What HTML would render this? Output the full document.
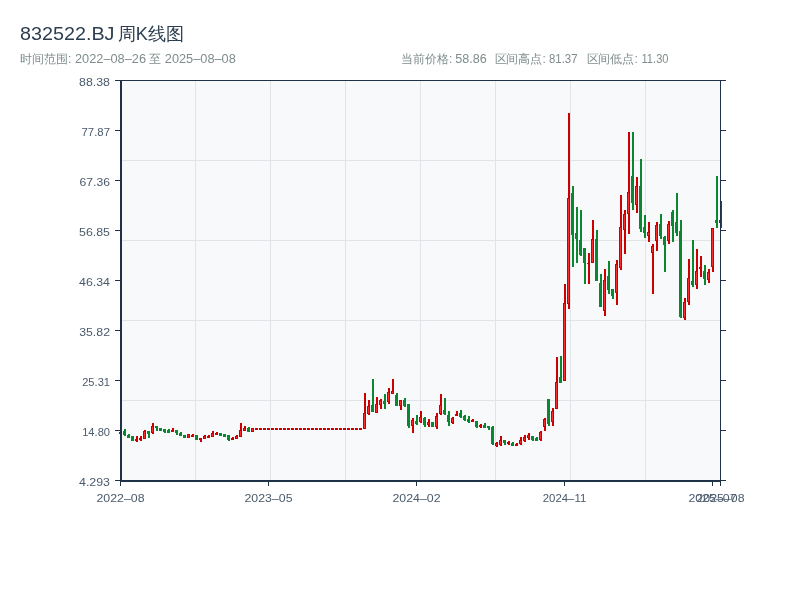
<!DOCTYPE html><html><head><meta charset="utf-8"><title>832522.BJ</title><style>
html,body{margin:0;padding:0;background:#fff;width:800px;height:600px;overflow:hidden}
svg{display:block;position:absolute;left:0;top:0}
text{font-family:"Liberation Sans",sans-serif}
</style></head><body>
<svg width="800" height="600" viewBox="0 0 800 600">
<rect x="0" y="0" width="800" height="600" fill="#fff"/>
<g shape-rendering="crispEdges">
<rect x="120" y="80" width="601" height="401" fill="#f8f9fa"/>
<rect x="195" y="80" width="1" height="400" fill="#e0e4e8"/>
<rect x="270" y="80" width="1" height="400" fill="#e0e4e8"/>
<rect x="345" y="80" width="1" height="400" fill="#e0e4e8"/>
<rect x="420" y="80" width="1" height="400" fill="#e0e4e8"/>
<rect x="495" y="80" width="1" height="400" fill="#e0e4e8"/>
<rect x="570" y="80" width="1" height="400" fill="#e0e4e8"/>
<rect x="645" y="80" width="1" height="400" fill="#e0e4e8"/>
<rect x="120" y="160" width="600" height="1" fill="#e0e4e8"/>
<rect x="120" y="240" width="600" height="1" fill="#e0e4e8"/>
<rect x="120" y="320" width="600" height="1" fill="#e0e4e8"/>
<rect x="120" y="400" width="600" height="1" fill="#e0e4e8"/>
<rect x="120" y="431" width="2" height="4" fill="#cc0000"/>
<rect x="119" y="432" width="3" height="2" fill="#cc0000"/>
<rect x="124" y="429" width="2" height="7" fill="#0a8730"/>
<rect x="123" y="431" width="3" height="4" fill="#0a8730"/>
<rect x="128" y="434" width="2" height="4" fill="#0a8730"/>
<rect x="127" y="435" width="3" height="3" fill="#0a8730"/>
<rect x="131" y="436" width="3" height="5" fill="#0a8730"/>
<rect x="136" y="436" width="2" height="6" fill="#cc0000"/>
<rect x="135" y="439" width="3" height="2" fill="#cc0000"/>
<rect x="140" y="436" width="2" height="5" fill="#cc0000"/>
<rect x="139" y="438" width="3" height="2" fill="#cc0000"/>
<rect x="144" y="430" width="2" height="9" fill="#cc0000"/>
<rect x="143" y="431" width="3" height="8" fill="#cc0000"/>
<rect x="144" y="432" width="1" height="6" fill="#ff2a2a"/>
<rect x="148" y="431" width="2" height="7" fill="#0a8730"/>
<rect x="147" y="431" width="3" height="3" fill="#0a8730"/>
<rect x="152" y="423" width="2" height="11" fill="#cc0000"/>
<rect x="151" y="426" width="3" height="7" fill="#cc0000"/>
<rect x="152" y="427" width="1" height="5" fill="#ff2a2a"/>
<rect x="156" y="426" width="2" height="5" fill="#0a8730"/>
<rect x="155" y="426" width="3" height="2" fill="#0a8730"/>
<rect x="159" y="428" width="3" height="3" fill="#0a8730"/>
<rect x="164" y="429" width="2" height="4" fill="#0a8730"/>
<rect x="163" y="429" width="3" height="3" fill="#0a8730"/>
<rect x="168" y="429" width="2" height="4" fill="#0a8730"/>
<rect x="167" y="430" width="3" height="3" fill="#0a8730"/>
<rect x="172" y="428" width="2" height="4" fill="#cc0000"/>
<rect x="171" y="430" width="3" height="2" fill="#cc0000"/>
<rect x="176" y="430" width="2" height="5" fill="#0a8730"/>
<rect x="175" y="430" width="3" height="3" fill="#0a8730"/>
<rect x="180" y="432" width="2" height="4" fill="#0a8730"/>
<rect x="179" y="433" width="3" height="3" fill="#0a8730"/>
<rect x="183" y="435" width="3" height="3" fill="#0a8730"/>
<rect x="187" y="434" width="3" height="4" fill="#cc0000"/>
<rect x="188" y="435" width="1" height="2" fill="#ff2a2a"/>
<rect x="192" y="434" width="2" height="3" fill="#cc0000"/>
<rect x="191" y="435" width="3" height="2" fill="#cc0000"/>
<rect x="195" y="435" width="3" height="5" fill="#0a8730"/>
<rect x="200" y="438" width="2" height="4" fill="#cc0000"/>
<rect x="199" y="438" width="3" height="2" fill="#cc0000"/>
<rect x="204" y="435" width="2" height="4" fill="#cc0000"/>
<rect x="203" y="436" width="3" height="3" fill="#cc0000"/>
<rect x="204" y="437" width="1" height="1" fill="#ff2a2a"/>
<rect x="208" y="435" width="2" height="3" fill="#cc0000"/>
<rect x="207" y="436" width="3" height="2" fill="#cc0000"/>
<rect x="212" y="431" width="2" height="6" fill="#cc0000"/>
<rect x="211" y="433" width="3" height="4" fill="#cc0000"/>
<rect x="212" y="434" width="1" height="2" fill="#ff2a2a"/>
<rect x="216" y="432" width="2" height="3" fill="#cc0000"/>
<rect x="215" y="433" width="3" height="2" fill="#cc0000"/>
<rect x="219" y="433" width="3" height="3" fill="#0a8730"/>
<rect x="223" y="434" width="3" height="3" fill="#0a8730"/>
<rect x="228" y="435" width="2" height="6" fill="#0a8730"/>
<rect x="227" y="435" width="3" height="5" fill="#0a8730"/>
<rect x="232" y="437" width="2" height="3" fill="#cc0000"/>
<rect x="231" y="438" width="3" height="2" fill="#cc0000"/>
<rect x="236" y="435" width="2" height="4" fill="#cc0000"/>
<rect x="235" y="436" width="3" height="3" fill="#cc0000"/>
<rect x="236" y="437" width="1" height="1" fill="#ff2a2a"/>
<rect x="240" y="423" width="2" height="14" fill="#cc0000"/>
<rect x="239" y="430" width="3" height="7" fill="#cc0000"/>
<rect x="240" y="431" width="1" height="5" fill="#ff2a2a"/>
<rect x="244" y="426" width="2" height="5" fill="#cc0000"/>
<rect x="243" y="428" width="3" height="3" fill="#cc0000"/>
<rect x="244" y="429" width="1" height="1" fill="#ff2a2a"/>
<rect x="248" y="427" width="2" height="5" fill="#0a8730"/>
<rect x="247" y="428" width="3" height="4" fill="#0a8730"/>
<rect x="251" y="428" width="3" height="4" fill="#cc0000"/>
<rect x="252" y="429" width="1" height="2" fill="#ff2a2a"/>
<rect x="255" y="428" width="3" height="2" fill="#cc0000"/>
<rect x="259" y="428" width="3" height="2" fill="#cc0000"/>
<rect x="263" y="428" width="3" height="2" fill="#cc0000"/>
<rect x="267" y="428" width="3" height="2" fill="#cc0000"/>
<rect x="271" y="428" width="3" height="2" fill="#cc0000"/>
<rect x="275" y="428" width="3" height="2" fill="#cc0000"/>
<rect x="279" y="428" width="3" height="2" fill="#cc0000"/>
<rect x="283" y="428" width="3" height="2" fill="#cc0000"/>
<rect x="287" y="428" width="3" height="2" fill="#cc0000"/>
<rect x="291" y="428" width="3" height="2" fill="#cc0000"/>
<rect x="295" y="428" width="3" height="2" fill="#cc0000"/>
<rect x="299" y="428" width="3" height="2" fill="#cc0000"/>
<rect x="303" y="428" width="3" height="2" fill="#cc0000"/>
<rect x="307" y="428" width="3" height="2" fill="#cc0000"/>
<rect x="311" y="428" width="3" height="2" fill="#cc0000"/>
<rect x="315" y="428" width="3" height="2" fill="#cc0000"/>
<rect x="319" y="428" width="3" height="2" fill="#cc0000"/>
<rect x="323" y="428" width="3" height="2" fill="#cc0000"/>
<rect x="327" y="428" width="3" height="2" fill="#cc0000"/>
<rect x="331" y="428" width="3" height="2" fill="#cc0000"/>
<rect x="335" y="428" width="3" height="2" fill="#cc0000"/>
<rect x="339" y="428" width="3" height="2" fill="#cc0000"/>
<rect x="343" y="428" width="3" height="2" fill="#cc0000"/>
<rect x="347" y="428" width="3" height="2" fill="#cc0000"/>
<rect x="351" y="428" width="3" height="2" fill="#cc0000"/>
<rect x="355" y="428" width="3" height="2" fill="#cc0000"/>
<rect x="359" y="428" width="3" height="2" fill="#cc0000"/>
<rect x="364" y="393" width="2" height="36" fill="#cc0000"/>
<rect x="363" y="413" width="3" height="16" fill="#cc0000"/>
<rect x="364" y="414" width="1" height="14" fill="#ff2a2a"/>
<rect x="368" y="400" width="2" height="15" fill="#cc0000"/>
<rect x="367" y="406" width="3" height="8" fill="#cc0000"/>
<rect x="368" y="407" width="1" height="6" fill="#ff2a2a"/>
<rect x="372" y="379" width="2" height="33" fill="#0a8730"/>
<rect x="371" y="405" width="3" height="7" fill="#0a8730"/>
<rect x="376" y="397" width="2" height="16" fill="#cc0000"/>
<rect x="375" y="404" width="3" height="9" fill="#cc0000"/>
<rect x="376" y="405" width="1" height="7" fill="#ff2a2a"/>
<rect x="380" y="399" width="2" height="10" fill="#cc0000"/>
<rect x="379" y="400" width="3" height="5" fill="#cc0000"/>
<rect x="380" y="401" width="1" height="3" fill="#ff2a2a"/>
<rect x="384" y="394" width="2" height="15" fill="#0a8730"/>
<rect x="383" y="401" width="3" height="3" fill="#0a8730"/>
<rect x="388" y="388" width="2" height="16" fill="#cc0000"/>
<rect x="387" y="392" width="3" height="10" fill="#cc0000"/>
<rect x="388" y="393" width="1" height="8" fill="#ff2a2a"/>
<rect x="392" y="379" width="2" height="15" fill="#cc0000"/>
<rect x="391" y="391" width="3" height="3" fill="#cc0000"/>
<rect x="392" y="392" width="1" height="1" fill="#ff2a2a"/>
<rect x="396" y="393" width="2" height="13" fill="#0a8730"/>
<rect x="395" y="395" width="3" height="11" fill="#0a8730"/>
<rect x="400" y="400" width="2" height="10" fill="#cc0000"/>
<rect x="399" y="400" width="3" height="6" fill="#cc0000"/>
<rect x="400" y="401" width="1" height="4" fill="#ff2a2a"/>
<rect x="404" y="398" width="2" height="9" fill="#0a8730"/>
<rect x="403" y="400" width="3" height="6" fill="#0a8730"/>
<rect x="408" y="404" width="2" height="24" fill="#0a8730"/>
<rect x="407" y="404" width="3" height="22" fill="#0a8730"/>
<rect x="412" y="418" width="2" height="15" fill="#cc0000"/>
<rect x="411" y="420" width="3" height="6" fill="#cc0000"/>
<rect x="412" y="421" width="1" height="4" fill="#ff2a2a"/>
<rect x="416" y="415" width="2" height="10" fill="#0a8730"/>
<rect x="415" y="421" width="3" height="3" fill="#0a8730"/>
<rect x="420" y="411" width="2" height="12" fill="#cc0000"/>
<rect x="419" y="417" width="3" height="5" fill="#cc0000"/>
<rect x="420" y="418" width="1" height="3" fill="#ff2a2a"/>
<rect x="424" y="417" width="2" height="10" fill="#0a8730"/>
<rect x="423" y="418" width="3" height="7" fill="#0a8730"/>
<rect x="428" y="419" width="2" height="8" fill="#cc0000"/>
<rect x="427" y="422" width="3" height="3" fill="#cc0000"/>
<rect x="428" y="423" width="1" height="1" fill="#ff2a2a"/>
<rect x="431" y="422" width="3" height="5" fill="#0a8730"/>
<rect x="436" y="413" width="2" height="16" fill="#cc0000"/>
<rect x="435" y="416" width="3" height="11" fill="#cc0000"/>
<rect x="436" y="417" width="1" height="9" fill="#ff2a2a"/>
<rect x="440" y="394" width="2" height="21" fill="#cc0000"/>
<rect x="439" y="405" width="3" height="9" fill="#cc0000"/>
<rect x="440" y="406" width="1" height="7" fill="#ff2a2a"/>
<rect x="444" y="398" width="2" height="17" fill="#0a8730"/>
<rect x="443" y="410" width="3" height="4" fill="#0a8730"/>
<rect x="448" y="411" width="2" height="15" fill="#0a8730"/>
<rect x="447" y="415" width="3" height="7" fill="#0a8730"/>
<rect x="452" y="417" width="2" height="7" fill="#cc0000"/>
<rect x="451" y="418" width="3" height="5" fill="#cc0000"/>
<rect x="452" y="419" width="1" height="3" fill="#ff2a2a"/>
<rect x="456" y="411" width="2" height="5" fill="#cc0000"/>
<rect x="455" y="414" width="3" height="2" fill="#cc0000"/>
<rect x="460" y="410" width="2" height="8" fill="#0a8730"/>
<rect x="459" y="413" width="3" height="4" fill="#0a8730"/>
<rect x="464" y="415" width="2" height="6" fill="#0a8730"/>
<rect x="463" y="416" width="3" height="4" fill="#0a8730"/>
<rect x="468" y="416" width="2" height="7" fill="#0a8730"/>
<rect x="467" y="419" width="3" height="3" fill="#0a8730"/>
<rect x="472" y="419" width="2" height="3" fill="#cc0000"/>
<rect x="471" y="420" width="3" height="2" fill="#cc0000"/>
<rect x="476" y="421" width="2" height="7" fill="#0a8730"/>
<rect x="475" y="421" width="3" height="6" fill="#0a8730"/>
<rect x="480" y="424" width="2" height="4" fill="#cc0000"/>
<rect x="479" y="425" width="3" height="2" fill="#cc0000"/>
<rect x="484" y="423" width="2" height="5" fill="#0a8730"/>
<rect x="483" y="425" width="3" height="3" fill="#0a8730"/>
<rect x="488" y="426" width="2" height="4" fill="#0a8730"/>
<rect x="487" y="426" width="3" height="2" fill="#0a8730"/>
<rect x="492" y="426" width="2" height="19" fill="#0a8730"/>
<rect x="491" y="427" width="3" height="17" fill="#0a8730"/>
<rect x="496" y="442" width="2" height="5" fill="#cc0000"/>
<rect x="495" y="443" width="3" height="3" fill="#cc0000"/>
<rect x="496" y="444" width="1" height="1" fill="#ff2a2a"/>
<rect x="500" y="436" width="2" height="10" fill="#cc0000"/>
<rect x="499" y="440" width="3" height="5" fill="#cc0000"/>
<rect x="500" y="441" width="1" height="3" fill="#ff2a2a"/>
<rect x="504" y="440" width="2" height="5" fill="#0a8730"/>
<rect x="503" y="440" width="3" height="3" fill="#0a8730"/>
<rect x="508" y="441" width="2" height="4" fill="#cc0000"/>
<rect x="507" y="442" width="3" height="2" fill="#cc0000"/>
<rect x="512" y="442" width="2" height="4" fill="#0a8730"/>
<rect x="511" y="443" width="3" height="3" fill="#0a8730"/>
<rect x="516" y="443" width="2" height="3" fill="#cc0000"/>
<rect x="515" y="444" width="3" height="2" fill="#cc0000"/>
<rect x="520" y="437" width="2" height="8" fill="#cc0000"/>
<rect x="519" y="440" width="3" height="4" fill="#cc0000"/>
<rect x="520" y="441" width="1" height="2" fill="#ff2a2a"/>
<rect x="524" y="435" width="2" height="7" fill="#cc0000"/>
<rect x="523" y="437" width="3" height="4" fill="#cc0000"/>
<rect x="524" y="438" width="1" height="2" fill="#ff2a2a"/>
<rect x="528" y="433" width="2" height="7" fill="#cc0000"/>
<rect x="527" y="435" width="3" height="3" fill="#cc0000"/>
<rect x="528" y="436" width="1" height="1" fill="#ff2a2a"/>
<rect x="532" y="436" width="2" height="5" fill="#0a8730"/>
<rect x="531" y="436" width="3" height="4" fill="#0a8730"/>
<rect x="536" y="437" width="2" height="4" fill="#0a8730"/>
<rect x="535" y="438" width="3" height="3" fill="#0a8730"/>
<rect x="540" y="431" width="2" height="10" fill="#cc0000"/>
<rect x="539" y="432" width="3" height="8" fill="#cc0000"/>
<rect x="540" y="433" width="1" height="6" fill="#ff2a2a"/>
<rect x="544" y="418" width="2" height="13" fill="#cc0000"/>
<rect x="543" y="419" width="3" height="8" fill="#cc0000"/>
<rect x="544" y="420" width="1" height="6" fill="#ff2a2a"/>
<rect x="548" y="399" width="2" height="27" fill="#0a8730"/>
<rect x="547" y="399" width="3" height="25" fill="#0a8730"/>
<rect x="552" y="408" width="2" height="18" fill="#cc0000"/>
<rect x="551" y="411" width="3" height="11" fill="#cc0000"/>
<rect x="552" y="412" width="1" height="9" fill="#ff2a2a"/>
<rect x="556" y="357" width="2" height="52" fill="#cc0000"/>
<rect x="555" y="382" width="3" height="27" fill="#cc0000"/>
<rect x="556" y="383" width="1" height="25" fill="#ff2a2a"/>
<rect x="560" y="356" width="2" height="27" fill="#0a8730"/>
<rect x="559" y="377" width="3" height="6" fill="#0a8730"/>
<rect x="564" y="284" width="2" height="97" fill="#cc0000"/>
<rect x="563" y="303" width="3" height="78" fill="#cc0000"/>
<rect x="564" y="304" width="1" height="76" fill="#ff2a2a"/>
<rect x="568" y="113" width="2" height="196" fill="#cc0000"/>
<rect x="567" y="198" width="3" height="106" fill="#cc0000"/>
<rect x="568" y="199" width="1" height="104" fill="#ff2a2a"/>
<rect x="572" y="186" width="2" height="81" fill="#0a8730"/>
<rect x="571" y="193" width="3" height="42" fill="#0a8730"/>
<rect x="576" y="207" width="2" height="56" fill="#0a8730"/>
<rect x="575" y="233" width="3" height="6" fill="#0a8730"/>
<rect x="580" y="210" width="2" height="46" fill="#0a8730"/>
<rect x="579" y="240" width="3" height="15" fill="#0a8730"/>
<rect x="584" y="248" width="2" height="36" fill="#0a8730"/>
<rect x="583" y="248" width="3" height="15" fill="#0a8730"/>
<rect x="588" y="253" width="2" height="31" fill="#cc0000"/>
<rect x="587" y="263" width="3" height="1" fill="#cc0000"/>
<rect x="592" y="220" width="2" height="43" fill="#cc0000"/>
<rect x="591" y="239" width="3" height="24" fill="#cc0000"/>
<rect x="592" y="240" width="1" height="22" fill="#ff2a2a"/>
<rect x="596" y="230" width="2" height="51" fill="#0a8730"/>
<rect x="595" y="239" width="3" height="42" fill="#0a8730"/>
<rect x="600" y="274" width="2" height="33" fill="#0a8730"/>
<rect x="599" y="283" width="3" height="24" fill="#0a8730"/>
<rect x="604" y="269" width="2" height="47" fill="#cc0000"/>
<rect x="603" y="280" width="3" height="31" fill="#cc0000"/>
<rect x="604" y="281" width="1" height="29" fill="#ff2a2a"/>
<rect x="608" y="261" width="2" height="33" fill="#0a8730"/>
<rect x="607" y="276" width="3" height="14" fill="#0a8730"/>
<rect x="612" y="289" width="2" height="10" fill="#0a8730"/>
<rect x="611" y="289" width="3" height="7" fill="#0a8730"/>
<rect x="616" y="260" width="2" height="45" fill="#cc0000"/>
<rect x="615" y="264" width="3" height="29" fill="#cc0000"/>
<rect x="616" y="265" width="1" height="27" fill="#ff2a2a"/>
<rect x="620" y="195" width="2" height="75" fill="#cc0000"/>
<rect x="619" y="227" width="3" height="41" fill="#cc0000"/>
<rect x="620" y="228" width="1" height="39" fill="#ff2a2a"/>
<rect x="624" y="210" width="2" height="44" fill="#cc0000"/>
<rect x="623" y="214" width="3" height="16" fill="#cc0000"/>
<rect x="624" y="215" width="1" height="14" fill="#ff2a2a"/>
<rect x="628" y="132" width="2" height="102" fill="#cc0000"/>
<rect x="627" y="192" width="3" height="22" fill="#cc0000"/>
<rect x="628" y="193" width="1" height="20" fill="#ff2a2a"/>
<rect x="632" y="132" width="2" height="78" fill="#0a8730"/>
<rect x="631" y="176" width="3" height="27" fill="#0a8730"/>
<rect x="636" y="177" width="2" height="36" fill="#cc0000"/>
<rect x="635" y="186" width="3" height="19" fill="#cc0000"/>
<rect x="636" y="187" width="1" height="17" fill="#ff2a2a"/>
<rect x="640" y="159" width="2" height="73" fill="#0a8730"/>
<rect x="639" y="186" width="3" height="43" fill="#0a8730"/>
<rect x="644" y="215" width="2" height="23" fill="#0a8730"/>
<rect x="643" y="227" width="3" height="6" fill="#0a8730"/>
<rect x="648" y="222" width="2" height="20" fill="#cc0000"/>
<rect x="647" y="232" width="3" height="4" fill="#cc0000"/>
<rect x="648" y="233" width="1" height="2" fill="#ff2a2a"/>
<rect x="652" y="244" width="2" height="50" fill="#cc0000"/>
<rect x="651" y="246" width="3" height="7" fill="#cc0000"/>
<rect x="652" y="247" width="1" height="5" fill="#ff2a2a"/>
<rect x="656" y="222" width="2" height="29" fill="#cc0000"/>
<rect x="655" y="225" width="3" height="16" fill="#cc0000"/>
<rect x="656" y="226" width="1" height="14" fill="#ff2a2a"/>
<rect x="660" y="214" width="2" height="25" fill="#0a8730"/>
<rect x="659" y="224" width="3" height="12" fill="#0a8730"/>
<rect x="664" y="236" width="2" height="36" fill="#0a8730"/>
<rect x="663" y="237" width="3" height="8" fill="#0a8730"/>
<rect x="668" y="221" width="2" height="23" fill="#cc0000"/>
<rect x="667" y="224" width="3" height="17" fill="#cc0000"/>
<rect x="668" y="225" width="1" height="15" fill="#ff2a2a"/>
<rect x="672" y="210" width="2" height="32" fill="#0a8730"/>
<rect x="671" y="212" width="3" height="14" fill="#0a8730"/>
<rect x="676" y="193" width="2" height="43" fill="#0a8730"/>
<rect x="675" y="222" width="3" height="11" fill="#0a8730"/>
<rect x="680" y="220" width="2" height="98" fill="#0a8730"/>
<rect x="679" y="231" width="3" height="86" fill="#0a8730"/>
<rect x="684" y="298" width="2" height="22" fill="#cc0000"/>
<rect x="683" y="302" width="3" height="16" fill="#cc0000"/>
<rect x="684" y="303" width="1" height="14" fill="#ff2a2a"/>
<rect x="688" y="259" width="2" height="46" fill="#cc0000"/>
<rect x="687" y="278" width="3" height="24" fill="#cc0000"/>
<rect x="688" y="279" width="1" height="22" fill="#ff2a2a"/>
<rect x="692" y="240" width="2" height="47" fill="#0a8730"/>
<rect x="691" y="281" width="3" height="4" fill="#0a8730"/>
<rect x="696" y="249" width="2" height="40" fill="#cc0000"/>
<rect x="695" y="271" width="3" height="14" fill="#cc0000"/>
<rect x="696" y="272" width="1" height="12" fill="#ff2a2a"/>
<rect x="700" y="256" width="2" height="21" fill="#cc0000"/>
<rect x="699" y="267" width="3" height="2" fill="#cc0000"/>
<rect x="704" y="265" width="2" height="20" fill="#0a8730"/>
<rect x="703" y="271" width="3" height="8" fill="#0a8730"/>
<rect x="708" y="269" width="2" height="14" fill="#cc0000"/>
<rect x="707" y="272" width="3" height="8" fill="#cc0000"/>
<rect x="708" y="273" width="1" height="6" fill="#ff2a2a"/>
<rect x="712" y="228" width="2" height="44" fill="#cc0000"/>
<rect x="711" y="228" width="3" height="39" fill="#cc0000"/>
<rect x="712" y="229" width="1" height="37" fill="#ff2a2a"/>
<rect x="716" y="176" width="2" height="52" fill="#0a8730"/>
<rect x="715" y="220" width="3" height="3" fill="#0a8730"/>
<rect x="720" y="201" width="2" height="27" fill="#cc0000"/>
<rect x="719" y="220" width="3" height="3" fill="#cc0000"/>
<rect x="720" y="221" width="1" height="1" fill="#ff2a2a"/>
<rect x="115" y="80" width="611" height="1" fill="#1f3147"/>
<rect x="720" y="80" width="1" height="402" fill="#1f3147"/>
<rect x="120" y="80" width="2" height="402" fill="#1f3147"/>
<rect x="120" y="480" width="601" height="2" fill="#1f3147"/>
<rect x="115" y="130" width="5" height="1" fill="#1f3147"/>
<rect x="721" y="130" width="5" height="1" fill="#1f3147"/>
<rect x="115" y="180" width="5" height="1" fill="#1f3147"/>
<rect x="721" y="180" width="5" height="1" fill="#1f3147"/>
<rect x="115" y="230" width="5" height="1" fill="#1f3147"/>
<rect x="721" y="230" width="5" height="1" fill="#1f3147"/>
<rect x="115" y="280" width="5" height="1" fill="#1f3147"/>
<rect x="721" y="280" width="5" height="1" fill="#1f3147"/>
<rect x="115" y="330" width="5" height="1" fill="#1f3147"/>
<rect x="721" y="330" width="5" height="1" fill="#1f3147"/>
<rect x="115" y="380" width="5" height="1" fill="#1f3147"/>
<rect x="721" y="380" width="5" height="1" fill="#1f3147"/>
<rect x="115" y="430" width="5" height="1" fill="#1f3147"/>
<rect x="721" y="430" width="5" height="1" fill="#1f3147"/>
<rect x="115" y="480" width="5" height="1" fill="#1f3147"/>
<rect x="721" y="480" width="5" height="1" fill="#1f3147"/>
<rect x="120" y="482" width="1" height="4" fill="#1f3147"/>
<rect x="268" y="482" width="1" height="4" fill="#1f3147"/>
<rect x="416" y="482" width="1" height="4" fill="#1f3147"/>
<rect x="564" y="482" width="1" height="4" fill="#1f3147"/>
<rect x="712" y="482" width="1" height="4" fill="#1f3147"/>
<rect x="720" y="482" width="1" height="4" fill="#1f3147"/>
</g>
<defs><filter id="aa" x="0" y="0" width="800" height="600" filterUnits="userSpaceOnUse"><feOffset dx="0" dy="0"/></filter></defs><g filter="url(#aa)">
<text x="110" y="86" font-size="11" fill="#4b5a6b" text-anchor="end" textLength="31" lengthAdjust="spacingAndGlyphs">88.38</text>
<text x="110" y="136" font-size="11" fill="#4b5a6b" text-anchor="end" textLength="28.5" lengthAdjust="spacingAndGlyphs">77.87</text>
<text x="110" y="186" font-size="11" fill="#4b5a6b" text-anchor="end" textLength="30.5" lengthAdjust="spacingAndGlyphs">67.36</text>
<text x="110" y="236" font-size="11" fill="#4b5a6b" text-anchor="end" textLength="31" lengthAdjust="spacingAndGlyphs">56.85</text>
<text x="110" y="286" font-size="11" fill="#4b5a6b" text-anchor="end" textLength="31" lengthAdjust="spacingAndGlyphs">46.34</text>
<text x="110" y="336" font-size="11" fill="#4b5a6b" text-anchor="end" textLength="30.8" lengthAdjust="spacingAndGlyphs">35.82</text>
<text x="110" y="386" font-size="11" fill="#4b5a6b" text-anchor="end" textLength="27.8" lengthAdjust="spacingAndGlyphs">25.31</text>
<text x="110" y="436" font-size="11" fill="#4b5a6b" text-anchor="end" textLength="27.8" lengthAdjust="spacingAndGlyphs">14.80</text>
<text x="110" y="486" font-size="11" fill="#4b5a6b" text-anchor="end" textLength="31" lengthAdjust="spacingAndGlyphs">4.293</text>
<text x="120.5" y="502" font-size="11" fill="#4b5a6b" text-anchor="middle" textLength="48" lengthAdjust="spacingAndGlyphs">2022–08</text>
<text x="268.5" y="502" font-size="11" fill="#4b5a6b" text-anchor="middle" textLength="48" lengthAdjust="spacingAndGlyphs">2023–05</text>
<text x="416.5" y="502" font-size="11" fill="#4b5a6b" text-anchor="middle" textLength="48" lengthAdjust="spacingAndGlyphs">2024–02</text>
<text x="564.5" y="502" font-size="11" fill="#4b5a6b" text-anchor="middle" textLength="43.5" lengthAdjust="spacingAndGlyphs">2024–11</text>
<text x="712.5" y="502" font-size="11" fill="#4b5a6b" text-anchor="middle" textLength="48" lengthAdjust="spacingAndGlyphs">2025–07</text>
<text x="720.5" y="502" font-size="11" fill="#4b5a6b" text-anchor="middle" textLength="48" lengthAdjust="spacingAndGlyphs">2025–08</text>
<text x="20" y="40" font-size="18" fill="#2c3e50" textLength="94.5" lengthAdjust="spacingAndGlyphs">832522.BJ</text>
<text x="117.6" y="40" font-size="18" fill="#2c3e50" textLength="66.5" lengthAdjust="spacingAndGlyphs">周K线图</text>
<text x="20" y="63" font-size="12" fill="#7f8c8d" textLength="51.3" lengthAdjust="spacingAndGlyphs">时间范围:</text>
<text x="75" y="63" font-size="12" fill="#7f8c8d" textLength="71" lengthAdjust="spacingAndGlyphs">2022–08–26</text>
<text x="149.3" y="63" font-size="12" fill="#7f8c8d" textLength="12" lengthAdjust="spacingAndGlyphs">至</text>
<text x="164.8" y="63" font-size="12" fill="#7f8c8d" textLength="71" lengthAdjust="spacingAndGlyphs">2025–08–08</text>
<text x="401" y="63" font-size="12" fill="#7f8c8d" textLength="51.3" lengthAdjust="spacingAndGlyphs">当前价格:</text>
<text x="455.2" y="63" font-size="12" fill="#7f8c8d" textLength="31.5" lengthAdjust="spacingAndGlyphs">58.86</text>
<text x="494.5" y="63" font-size="12" fill="#7f8c8d" textLength="51.3" lengthAdjust="spacingAndGlyphs">区间高点:</text>
<text x="549" y="63" font-size="12" fill="#7f8c8d" textLength="28.5" lengthAdjust="spacingAndGlyphs">81.37</text>
<text x="586.5" y="63" font-size="12" fill="#7f8c8d" textLength="51.3" lengthAdjust="spacingAndGlyphs">区间低点:</text>
<text x="641.5" y="63" font-size="12" fill="#7f8c8d" textLength="27" lengthAdjust="spacingAndGlyphs">11.30</text>
</g>
</svg></body></html>
